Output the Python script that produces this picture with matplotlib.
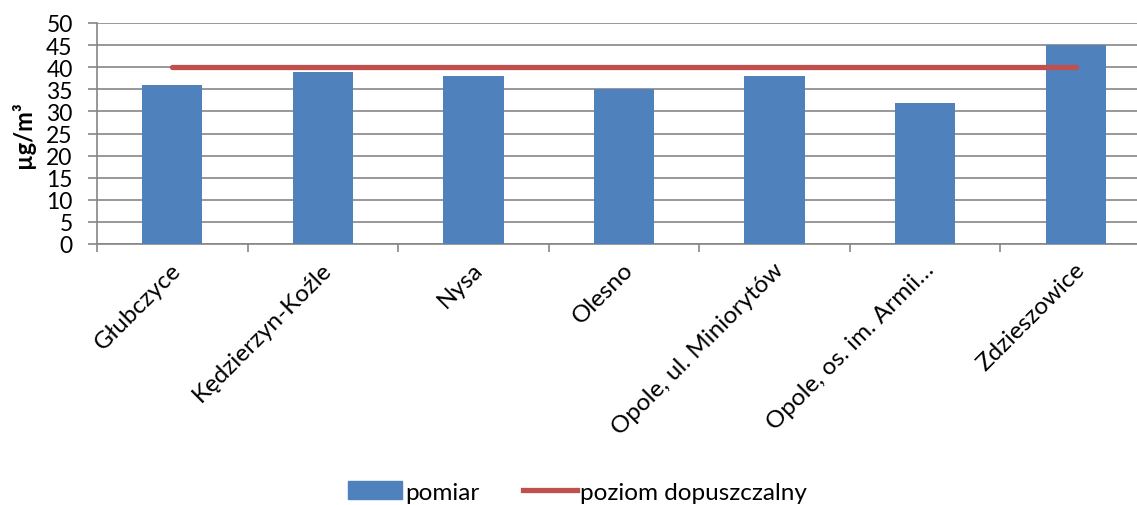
import matplotlib
matplotlib.use("Agg")
import matplotlib.pyplot as plt
import matplotlib.transforms as mtrans
import numpy as np
from matplotlib.lines import Line2D
from matplotlib.patches import Patch

categories = ["Głubczyce", "Kędzierzyn-Koźle", "Nysa", "Olesno",
              "Opole, ul. Miniorytów", "Opole, os. im. Armii…", "Zdzieszowice"]
pomiar = [36, 39, 38, 35, 38, 32, 45]
poziom = [40, 40, 40, 40, 40, 40, 40]
yticks = [0, 5, 10, 15, 20, 25, 30, 35, 40, 45, 50]

plt.rcParams['font.family'] = ['Lato', 'DejaVu Sans']

W, H = 1137, 506
fig = plt.figure(figsize=(W/100, H/100), dpi=100)
ax = fig.add_axes([97/W, 1-245/H, (1151-97)/W, (245-24)/H])

x = np.arange(len(categories))
ax.bar(x, pomiar, width=0.4, color='#4F81BD', zorder=3)
ax.plot(x, poziom, color='#C0504D', lw=3.8, solid_capstyle='round', zorder=4)

ax.set_xlim(-0.5, len(categories)-0.5)
ax.set_ylim(0, 50)
ax.set_yticks(yticks)
ax.yaxis.grid(True, color='#868686', lw=1.2, zorder=0)
ax.tick_params(axis='y', length=6.5, width=1.2, color='#868686', labelsize=16.5, pad=11)

ax.set_xticks(x)
ax.set_xticklabels(categories, rotation=45, ha='right', rotation_mode='anchor', fontsize=17.5)
ax.tick_params(axis='x', which='major', length=0, pad=12)
ax.set_xticks(np.arange(-0.5, len(categories), 1), minor=True)
ax.tick_params(axis='x', which='minor', length=6, width=1.2, color='#868686')
off = mtrans.ScaledTranslation(-2/100, 2/100, fig.dpi_scale_trans)
for lab in ax.get_xticklabels():
    lab.set_transform(lab.get_transform() + off)

for s in ['top', 'right']:
    ax.spines[s].set_visible(False)
for s in ['left', 'bottom']:
    ax.spines[s].set_color('#868686')
    ax.spines[s].set_linewidth(1.2)

ax.set_ylabel("µg/m³", fontsize=17, fontweight='bold', labelpad=8)

handles = [Patch(color='#4F81BD', label='pomiar'),
           Line2D([0], [0], color='#C0504D', lw=3.8, label='poziom dopuszczalny')]
fig.legend(handles=handles, loc='center', bbox_to_anchor=(0.508, 1-493/H), ncol=2,
           frameon=False, fontsize=17.5, handlelength=2.2, handletextpad=0.15,
           columnspacing=1.8)

fig.savefig("out.png", dpi=100)
